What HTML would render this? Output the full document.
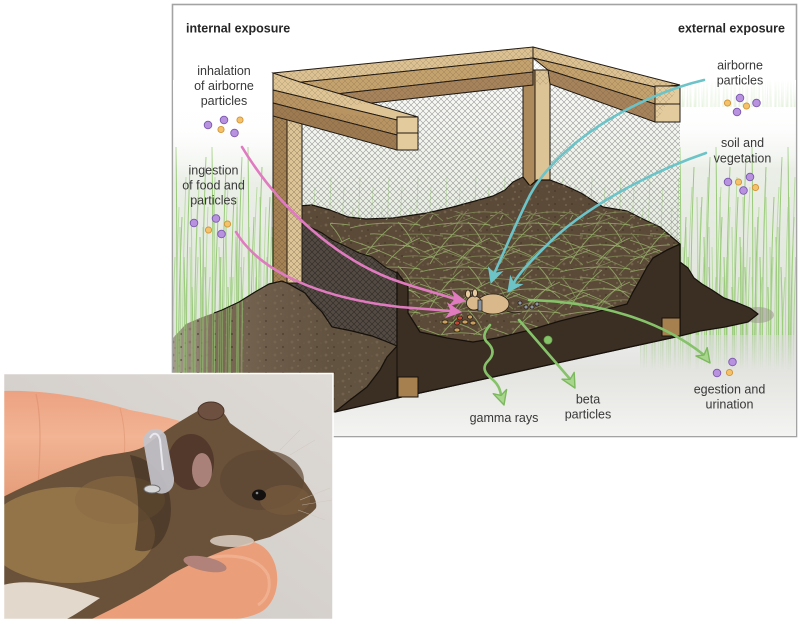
<!DOCTYPE html>
<html><head><meta charset="utf-8"><title>Exposure pathways</title>
<style>
html,body{margin:0;padding:0;background:#fff;width:800px;height:621px;overflow:hidden}
svg{display:block}
.lb{font-family:"Liberation Sans",Arial,sans-serif;font-size:12.5px;fill:#383838}
.hd{font-family:"Liberation Sans",Arial,sans-serif;font-size:12.5px;font-weight:bold;fill:#262626}
</style></head><body>
<svg width="800" height="621" viewBox="0 0 800 621" xmlns="http://www.w3.org/2000/svg">
<defs>
<pattern id="mesh" width="6" height="6" patternUnits="userSpaceOnUse"><path d="M0,0L6,6M6,0L0,6" stroke="#777" stroke-width="0.55" fill="none"/></pattern>
<pattern id="meshd" width="6" height="6" patternUnits="userSpaceOnUse"><path d="M0,0L6,6M6,0L0,6" stroke="#2c2722" stroke-width="0.7" fill="none"/></pattern>
<pattern id="meshw" width="6" height="6" patternUnits="userSpaceOnUse"><path d="M0,0L6,6M6,0L0,6" stroke="#5a4a35" stroke-width="0.5" fill="none"/></pattern>
<pattern id="gl" x="173" y="107" width="36" height="330" patternUnits="userSpaceOnUse"><path d="M2,330Q5,200 3,40M6,330Q4,220 9,110M10,330Q13,230 11,150M14,330Q12,180 17,60M18,330Q21,250 19,180M22,330Q20,200 25,90M26,330Q29,220 27,130M30,330Q28,170 33,50M34,330Q35,240 32,160" stroke="#8cc468" stroke-width="1" fill="none"/></pattern>
<pattern id="gl2" x="180" y="107" width="29" height="330" patternUnits="userSpaceOnUse"><path d="M3,330Q1,210 6,70M9,330Q12,240 10,140M15,330Q13,190 19,80M21,330Q24,260 21,170M26,330Q24,200 28,100" stroke="#a6d589" stroke-width="0.9" fill="none"/></pattern>
<pattern id="gl3" x="176" y="107" width="23" height="330" patternUnits="userSpaceOnUse"><path d="M2,330Q6,230 4,120M8,330Q6,250 11,170M14,330Q17,200 15,90M20,330Q18,240 22,150" stroke="#98cc78" stroke-width="1.1" fill="none"/></pattern>
<pattern id="straw" width="70" height="44" patternUnits="userSpaceOnUse"><path d="M0,8Q30,0 70,5M0,20Q25,28 50,40M4,32Q34,20 66,28M10,44Q22,22 42,6M36,44Q50,26 70,18M20,14Q45,12 70,34M0,40Q15,36 30,30M48,2Q58,12 62,22" stroke="#9cba6e" stroke-width="0.9" fill="none"/></pattern>
<pattern id="speck" width="17" height="13" patternUnits="userSpaceOnUse"><circle cx="3" cy="4" r="1.4" fill="#7d6b53"/><circle cx="11" cy="9" r="1.1" fill="#46382a"/><circle cx="9" cy="2" r="0.9" fill="#8a785e"/><circle cx="15" cy="5" r="0.8" fill="#6f5f49"/><circle cx="5" cy="10" r="0.9" fill="#8a7a62"/></pattern>
<linearGradient id="hazeV" x1="0" y1="0" x2="0" y2="1"><stop offset="0" stop-color="#fff" stop-opacity="0"/><stop offset="0.25" stop-color="#e6ebe2" stop-opacity="0.85"/><stop offset="1" stop-color="#d9dfd3"/></linearGradient>
<linearGradient id="fadeTop" x1="0" y1="0" x2="0" y2="1"><stop offset="0" stop-color="#fff" stop-opacity="1"/><stop offset="1" stop-color="#fff" stop-opacity="0"/></linearGradient>
<linearGradient id="ground" x1="0" y1="0" x2="0" y2="1"><stop offset="0" stop-color="#dcdeda" stop-opacity="0.5"/><stop offset="0.35" stop-color="#e3e4e0"/><stop offset="1" stop-color="#f4f4f2"/></linearGradient>
<linearGradient id="meshbg" x1="0" y1="0" x2="0" y2="1"><stop offset="0" stop-color="#fafaf8"/><stop offset="1" stop-color="#e4ebdd"/></linearGradient>
<linearGradient id="pileL" gradientUnits="userSpaceOnUse" x1="173" y1="0" x2="330" y2="0"><stop offset="0" stop-color="#a39b8c"/><stop offset="0.3" stop-color="#7a6a56"/><stop offset="0.6" stop-color="#6d5c49"/><stop offset="1" stop-color="#625240"/></linearGradient>
<linearGradient id="pbg" x1="1" y1="0" x2="0" y2="1"><stop offset="0" stop-color="#dedad6"/><stop offset="1" stop-color="#cdc8c3"/></linearGradient>
<linearGradient id="skin" x1="0" y1="0" x2="0" y2="1"><stop offset="0" stop-color="#eca282"/><stop offset="0.4" stop-color="#f2b494"/><stop offset="1" stop-color="#e39a76"/></linearGradient>
<clipPath id="frameClip"><rect x="173" y="5" width="623" height="431"/></clipPath>
<clipPath id="photoClip"><rect x="3" y="373" width="330" height="247"/></clipPath>
<clipPath id="pileC"><path d="M173,338L186,324L200,318L222,310L239,302L255,292L269,284L282,281L289,284L305,293L312,302L322,312L332,327L352,331L372,336L385,341L397,346L387,357L380,370L367,387L350,400L335,412L300,422L250,428L173,432Z"/></clipPath>
<clipPath id="soilC"><path d="M289,214L298,206L312,205L330,210L348,217L366,219L393,218L427,213L453,207L475,201L493,196L505,190L513,182L523,177L530,186L537,180L550,180L566,186L581,193L603,207L627,211L645,220L660,227L680,244L680,336L397,398L289,300Z"/></clipPath>
</defs>

<rect width="800" height="621" fill="#fff"/>
<rect x="172.5" y="4.5" width="624" height="432" fill="#fff" stroke="#a3a3a3" stroke-width="1.6"/>

<g clip-path="url(#frameClip)">
  <!-- left haze and grass -->
  <rect x="173" y="100" width="135" height="337" fill="url(#hazeV)"/>
  <rect x="173" y="107" width="135" height="330" fill="url(#gl)" opacity="0.85"/>
  <rect x="173" y="107" width="135" height="330" fill="url(#gl2)" opacity="0.75"/>
  <rect x="173" y="107" width="135" height="330" fill="url(#gl3)" opacity="0.6"/>
  <!-- right haze and grass -->
  <rect x="640" y="90" width="157" height="320" fill="url(#hazeV)"/>
  <rect x="640" y="80" width="157" height="330" fill="url(#gl)" opacity="0.85"/>
  <rect x="640" y="80" width="157" height="330" fill="url(#gl2)" opacity="0.75"/>
  <rect x="640" y="80" width="157" height="330" fill="url(#gl3)" opacity="0.6"/>
  <rect x="173" y="80" width="623" height="90" fill="url(#fadeTop)"/>
  <!-- ground -->
  <rect x="173" y="335" width="623" height="102" fill="url(#ground)"/>

  <!-- mesh background -->
  <polygon points="302,100 533,72 680,118 680,262 302,262" fill="url(#meshbg)"/>
  <rect x="302" y="120" width="378" height="142" fill="url(#gl2)" opacity="0.55"/>
  <polygon points="302,100 533,72 680,118 680,262 302,262" fill="url(#mesh)" opacity="0.75"/>

  <!-- center post -->
  <rect x="523" y="70" width="12" height="118" fill="#ac8a5c" stroke="#1f1812" stroke-width="1"/>
  <rect x="535" y="70" width="15" height="118" fill="#ddc496" stroke="#1f1812" stroke-width="1"/>

  <!-- back soil -->
  <path d="M289,214L298,206L312,205L330,210L348,217L366,219L393,218L427,213L453,207L475,201L493,196L505,190L513,182L523,177L530,186L537,180L550,180L566,186L581,193L603,207L627,211L645,220L660,227L680,244L680,336L397,398L289,300Z" fill="#5b4a38" stroke="#17110c" stroke-width="1.2" stroke-linejoin="round"/>
  <g clip-path="url(#soilC)">
    <rect x="289" y="175" width="392" height="225" fill="url(#speck)" opacity="0.7"/>
    <rect x="330" y="215" width="340" height="120" fill="url(#straw)" opacity="0.75"/>
    <rect x="380" y="200" width="280" height="110" fill="url(#straw)" opacity="0.5" transform="translate(23,11)"/>
  </g>

  <!-- left shadow mesh wall -->
  <path d="M289,223L300,222L312,228L322,233L332,240L345,246L359,253L372,257L385,267L397,273L397,346L385,341L372,336L352,331L332,327L322,312L312,302L305,293L289,284Z" fill="#534b43" stroke="#17110c" stroke-width="1.1"/>
  <path d="M289,223L300,222L312,228L322,233L332,240L345,246L359,253L372,257L385,267L397,273L397,346L385,341L372,336L352,331L332,327L322,312L312,302L305,293L289,284Z" fill="url(#meshd)" opacity="0.8"/>

  <!-- left post -->
  <rect x="273" y="74" width="14" height="209" fill="#a48253" stroke="#1f1812" stroke-width="1"/>
  <rect x="287" y="80" width="15" height="203" fill="#ddc496" stroke="#1f1812" stroke-width="1"/>
  <rect x="273" y="74" width="29" height="209" fill="url(#meshw)" opacity="0.6"/>

  <!-- back beam -->
  <path d="M273,73L533,47L533,58L293,83Z" fill="#dcc292" stroke="#1f1812" stroke-width="1"/>
  <path d="M293,83L533,58L533,72L300,98Z" fill="#c4a26d" stroke="#1f1812" stroke-width="1"/>
  <path d="M300,98L533,72L533,85L310,110Z" fill="#a6835a" stroke="#1f1812" stroke-width="1"/>
  <!-- right beam -->
  <path d="M533,47L680,85L655,87L533,58Z" fill="#dcc292" stroke="#1f1812" stroke-width="1"/>
  <path d="M533,58L655,87L655,104L548,70Z" fill="#c4a26d" stroke="#1f1812" stroke-width="1"/>
  <path d="M548,70L655,104L655,122L550,84Z" fill="#a6835a" stroke="#1f1812" stroke-width="1"/>
  <rect x="655" y="86" width="25" height="36" fill="#e3cb9d" stroke="#1f1812" stroke-width="1"/>
  <line x1="655" y1="104" x2="680" y2="104" stroke="#1f1812" stroke-width="1"/>
  <!-- front beam -->
  <path d="M273,73L300,82L418,117L397,120L273,90Z" fill="#dfc596" stroke="#1f1812" stroke-width="1"/>
  <path d="M273,90L397,120L397,135L273,103Z" fill="#b89462" stroke="#1f1812" stroke-width="1"/>
  <path d="M273,103L397,135L397,150L273,116Z" fill="#9d7a50" stroke="#1f1812" stroke-width="1"/>
  <rect x="397" y="117" width="21" height="33" fill="#e3cb9d" stroke="#1f1812" stroke-width="1"/>
  <line x1="397" y1="133" x2="418" y2="133" stroke="#1f1812" stroke-width="1"/>
  <path d="M273,73L533,47L680,85L655,122L550,84L533,85L310,110L397,120L397,150L273,116Z" fill="url(#meshw)" opacity="0.35"/>

  <!-- left outside pile -->
  <path d="M173,338L186,324L200,318L222,310L239,302L255,292L269,284L282,281L289,284L305,293L312,302L322,312L332,327L352,331L372,336L385,341L397,346L387,357L380,370L367,387L350,400L335,412L300,422L250,428L173,432Z" fill="url(#pileL)"/>
  <g clip-path="url(#pileC)">
    <rect x="173" y="280" width="225" height="155" fill="url(#speck)" opacity="0.6"/>
    <rect x="173" y="300" width="70" height="137" fill="url(#gl)" opacity="0.5"/>
    <rect x="173" y="300" width="70" height="137" fill="url(#gl3)" opacity="0.4"/>
  </g>
  <path d="M214,313L222,310L239,302L255,292L269,284L282,281L289,284L305,293L312,302L322,312L332,327L352,331L372,336L385,341L397,346" fill="none" stroke="#17110c" stroke-width="1.2"/>

  <!-- right outside pile -->
  <ellipse cx="758" cy="315" rx="16" ry="8" fill="#9b958d" opacity="0.55"/>
  <path d="M680,262L688,268L694,278L702,284L712,290L724,298L738,303L750,308L758,314L748,322L725,327L700,331L680,336Z" fill="#3b2f23" stroke="#17110c" stroke-width="1.2" stroke-linejoin="round"/>

  <!-- front dark wall -->
  <path d="M397,272L408,287L408,313L420,332L447,338L473,342L497,338L530,330L560,321L600,311L627,304L633,292L640,280L647,267L653,258L667,250L680,244L680,336L530,369L397,398L335,412L350,400L367,387L380,370L387,357L397,346Z" fill="#3b2f23" stroke="#17110c" stroke-width="1.3" stroke-linejoin="round"/>
  <line x1="397" y1="346" x2="397" y2="398" stroke="#17110c" stroke-width="1.1"/>
  <rect x="398" y="377" width="20" height="20" fill="#a6814f" stroke="#17110c" stroke-width="1"/>
  <rect x="662" y="318" width="18" height="18" fill="#a6814f" stroke="#17110c" stroke-width="1"/>

  <!-- mouse and food -->
  <g stroke="#2b2117" stroke-width="0.8">
    <path d="M507,311Q514,314 522,312" fill="none"/>
    <ellipse cx="493" cy="304" rx="16" ry="10" fill="#d9b98b"/>
    <ellipse cx="474" cy="303" rx="7.5" ry="7" fill="#d9b98b"/>
    <ellipse cx="468" cy="294" rx="2.5" ry="4" fill="#e6caa0"/>
    <ellipse cx="475" cy="293" rx="2.5" ry="4" fill="#e6caa0"/>
    <rect x="478" y="300" width="4" height="11" fill="#8a94a0"/>
    <ellipse cx="445" cy="322" rx="3" ry="2" fill="#c9a060"/>
    <ellipse cx="457" cy="323" rx="2.5" ry="2" fill="#c24634"/>
    <ellipse cx="460" cy="318" rx="2.5" ry="2" fill="#c24634"/>
    <ellipse cx="465" cy="322" rx="3" ry="2" fill="#c9a060"/>
    <ellipse cx="473" cy="323" rx="3" ry="2" fill="#c9a060"/>
    <ellipse cx="457" cy="330" rx="3" ry="2" fill="#c9a060"/>
    <ellipse cx="470" cy="317" rx="2.5" ry="2" fill="#c9a060"/>
    <circle cx="520" cy="303" r="2" fill="#8e95a0"/>
    <circle cx="526" cy="307" r="2" fill="#8e95a0"/>
    <circle cx="532" cy="307" r="2" fill="#8e95a0"/>
    <circle cx="537" cy="304" r="2" fill="#8e95a0"/>
  </g>

  <!-- arrows -->
  <g fill="none" stroke-width="2.6" stroke-linecap="round">
    <path d="M242,147C280,210 340,262 400,282C420,289 440,294 455,299" stroke="#e07bc0"/>
    <path d="M236,232C260,272 320,298 400,307L451,311" stroke="#e07bc0"/>
    <path d="M704,80C640,95 560,140 530,195C515,225 505,250 494,274" stroke="#6cc3c8"/>
    <path d="M706,153C650,172 580,210 545,247C530,262 520,272 513,284" stroke="#6cc3c8"/>
    <path d="M529,300C600,302 660,320 704,355" stroke="#86c26a"/>
    <path d="M519,320L570,379" stroke="#86c26a"/>
    <path d="M490,325C484,332 482,338 488,343C494,349 494,355 488,361C482,367 484,373 492,379C498,384 500,389 501,395" stroke="#86c26a"/>
  </g>
  <path d="M465,301L452.7,291.4L455.2,299L449.9,305.2Z" fill="#e07bc0" stroke="#e07bc0" stroke-width="1"/>
  <path d="M461,312L447.9,303.4L451.1,310.9L446.3,317.3Z" fill="#e07bc0" stroke="#e07bc0" stroke-width="1"/>
  <path d="M491,283L488.6,267.6L494.1,273.5L502,271.8Z" fill="#6cc3c8" stroke="#6cc3c8" stroke-width="1"/>
  <path d="M508,292L510.4,276.5L513.8,283.8L521.8,284.6Z" fill="#6cc3c8" stroke="#6cc3c8" stroke-width="1"/>
  <path d="M710,363L696,356L704,355L707.2,347.6Z" fill="#a9d68d" stroke="#7cb95e" stroke-width="1.4" stroke-linejoin="round"/>
  <path d="M575,388L562,379.2L570.1,379.3L574.2,372.4Z" fill="#a9d68d" stroke="#7cb95e" stroke-width="1.4" stroke-linejoin="round"/>
  <path d="M504,405L493.2,393.7L501.1,395.4L506.6,389.5Z" fill="#a9d68d" stroke="#7cb95e" stroke-width="1.4" stroke-linejoin="round"/>
  <circle cx="548" cy="340" r="4" fill="#86c26a" stroke="#6aa84f" stroke-width="0.8"/>
</g>

<!-- particle dots -->
<g stroke-width="0.9">
  <g fill="#b892de" stroke="#7b58b0">
    <circle cx="208" cy="125" r="3.8"/><circle cx="224" cy="120" r="3.8"/><circle cx="234.5" cy="133" r="3.8"/>
    <circle cx="194" cy="223" r="3.8"/><circle cx="216" cy="218.5" r="3.8"/><circle cx="221.5" cy="234" r="3.8"/>
    <circle cx="740" cy="98" r="3.8"/><circle cx="756.5" cy="103" r="3.8"/><circle cx="737" cy="112" r="3.8"/>
    <circle cx="728" cy="182" r="3.8"/><circle cx="750" cy="177" r="3.8"/><circle cx="743.5" cy="190.5" r="3.8"/>
    <circle cx="732.5" cy="362" r="3.8"/><circle cx="717" cy="373" r="3.8"/>
  </g>
  <g fill="#f5c26c" stroke="#d39334">
    <circle cx="240" cy="120" r="3.1"/><circle cx="221" cy="129.5" r="3.1"/>
    <circle cx="227.5" cy="224" r="3.1"/><circle cx="208.5" cy="230" r="3.1"/>
    <circle cx="727.5" cy="103" r="3.1"/><circle cx="746.5" cy="106" r="3.1"/>
    <circle cx="738.5" cy="182" r="3.1"/><circle cx="755.5" cy="187.5" r="3.1"/>
    <circle cx="729.5" cy="372.5" r="3.1"/>
  </g>
</g>

<!-- labels -->
<text class="hd" x="186" y="32.5">internal exposure</text>
<text class="hd" x="785" y="32.5" text-anchor="end">external exposure</text>
<g class="lb" text-anchor="middle">
  <text x="224" y="75">inhalation</text>
  <text x="224" y="90">of airborne</text>
  <text x="224" y="105">particles</text>
  <text x="213.5" y="174.5">ingestion</text>
  <text x="213.5" y="189.5">of food and</text>
  <text x="213.5" y="204.5">particles</text>
  <text x="740" y="69.5">airborne</text>
  <text x="740" y="84.5">particles</text>
  <text x="742.5" y="147">soil and</text>
  <text x="742.5" y="162.5">vegetation</text>
  <text x="729.5" y="393.5">egestion and</text>
  <text x="729.5" y="408.5">urination</text>
  <text x="588" y="403.5">beta</text>
  <text x="588" y="418.5">particles</text>
  <text x="504" y="422">gamma rays</text>
</g>

<!-- photo -->
<g clip-path="url(#photoClip)">
  <rect x="3" y="373" width="330" height="247" fill="url(#pbg)"/>
  <path d="M3,391C40,390 80,395 130,410C160,416 185,420 200,430C210,445 205,458 195,465L150,478L3,505Z" fill="url(#skin)"/>
  <path d="M36,394C42,420 40,455 38,488" stroke="#dc8f6c" stroke-width="1.2" fill="none" opacity="0.6"/>
  <path d="M120,408C126,430 126,450 122,470" stroke="#dc8f6c" stroke-width="1" fill="none" opacity="0.5"/>
  <path d="M150,548C190,538 240,532 262,546C282,560 282,596 264,610C250,620 220,622 180,622L60,622C90,600 120,570 150,548Z" fill="#ea9e79"/>
  <path d="M200,560C230,552 258,556 268,575C272,590 266,600 258,605" stroke="#f4bc9f" stroke-width="3" fill="none" opacity="0.6"/>
  <path d="M3,497C36,480 70,466 103,456C120,453 136,452 145,446C165,430 185,418 205,407C215,403 222,408 230,423C250,438 280,455 295,470C310,488 318,500 316,508C308,518 290,527 270,537C255,541 240,546 225,550C205,558 188,565 170,575C150,590 120,605 90,620L3,620Z" fill="#6a5139"/>
  <ellipse cx="70" cy="535" rx="85" ry="48" fill="#9a7a4c" opacity="0.85"/>
  <ellipse cx="120" cy="500" rx="45" ry="24" fill="#8a6c44" opacity="0.6"/>
  <path d="M130,455C160,460 175,490 170,520C165,545 150,555 135,550C140,520 140,490 130,455Z" fill="#3f2e21" opacity="0.6"/>
  <ellipse cx="262" cy="480" rx="42" ry="30" fill="#5e4733" opacity="0.7"/>
  <ellipse cx="285" cy="500" rx="25" ry="15" fill="#7a5e40" opacity="0.6"/>
  <path d="M3,585C30,578 60,585 100,598C85,608 75,615 65,620L3,620Z" fill="#e3d8cc"/>
  <ellipse cx="232" cy="541" rx="22" ry="6" fill="#d9cec2" opacity="0.85"/>
  <ellipse cx="205" cy="564" rx="22" ry="7" transform="rotate(12 205 564)" fill="#b08279"/>
  <ellipse cx="191" cy="462" rx="23" ry="28" fill="#52392c"/>
  <ellipse cx="202" cy="470" rx="10" ry="17" fill="#b48a82" opacity="0.9"/>
  <ellipse cx="211" cy="411" rx="13" ry="9" fill="#6e5040" stroke="#4a3528" stroke-width="1"/>
  <path d="M143,440C146,428 160,424 166,436L174,478C175,492 162,498 152,490Z" fill="#c3c3ca" opacity="0.92"/>
  <path d="M150,438C153,432 158,432 160,440L163,470" stroke="#e8e8ee" stroke-width="2" fill="none"/>
  <ellipse cx="152" cy="489" rx="8" ry="4" fill="#d6d6d6" stroke="#6e6e6e" stroke-width="1"/>
  <ellipse cx="259" cy="495" rx="7" ry="5.5" fill="#141010"/>
  <circle cx="257" cy="493" r="1.3" fill="#8a8a8a"/>
  <path d="M300,500L330,488M302,505L332,500M298,510L325,520M280,450L300,430M290,455L315,440" stroke="#cfc6bc" stroke-width="0.6" opacity="0.7"/>
</g>
<rect x="3.5" y="373.5" width="329.5" height="246" fill="none" stroke="#fff" stroke-width="1.5"/>
</svg>
</body></html>
